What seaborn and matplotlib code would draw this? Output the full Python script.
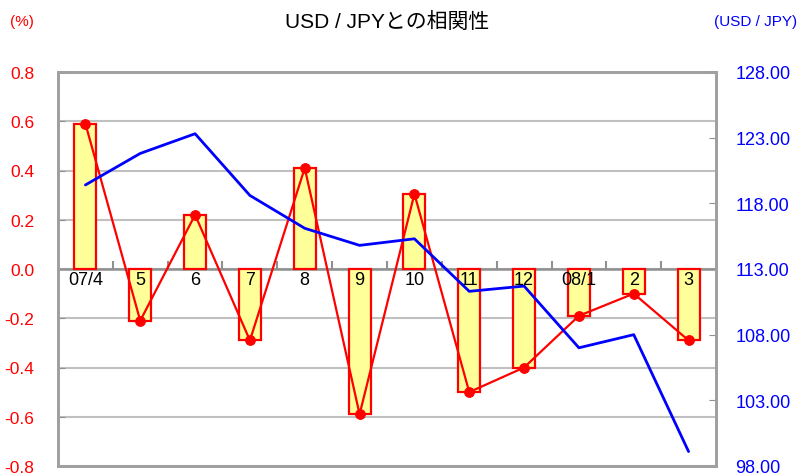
import numpy as np
import pandas as pd
import matplotlib
matplotlib.use("Agg")
import matplotlib.pyplot as plt
import seaborn as sns
from matplotlib.ticker import FormatStrFormatter

months = ["07/4", "5", "6", "7", "8", "9", "10", "11", "12", "08/1", "2", "3"]
corr = [0.59, -0.21, 0.22, -0.29, 0.41, -0.59, 0.305, -0.50, -0.40, -0.19, -0.10, -0.29]
usdjpy = [119.4, 121.8, 123.3, 118.6, 116.1, 114.8, 115.3, 111.3, 111.7, 107.0, 108.0, 99.1]
left_ticks = [-0.8, -0.6, -0.4, -0.2, 0.0, 0.2, 0.4, 0.6, 0.8]
right_ticks = [98, 103, 108, 113, 118, 123, 128]

sns.set_style("white")
plt.rcParams["font.family"] = ["Liberation Sans", "Noto Sans CJK JP", "DejaVu Sans"]
plt.rcParams["axes.unicode_minus"] = False

fig = plt.figure(figsize=(8.01, 4.77), dpi=100)
ax = fig.add_axes([58 / 801, 1 - 467 / 477, (716 - 58) / 801, (467 - 73) / 477])

df = pd.DataFrame({"month": months, "corr": corr, "pos": np.arange(len(months)), "usd": usdjpy})

sns.barplot(data=df, x="month", y="corr", order=months, ax=ax, color="#FFFF99",
            saturation=1, edgecolor="#FF0000", linewidth=1.6, width=0.4, zorder=3)
sns.lineplot(data=df, x="pos", y="corr", ax=ax, color="#FF0000", linewidth=1.6,
             marker="o", markersize=7, markeredgecolor="#FF0000", zorder=4)

ax.set_xlim(-0.5, len(months) - 0.5)
ax.set_ylim(-0.8, 0.8)
ax.set_yticks(left_ticks)
ax.yaxis.set_major_formatter(FormatStrFormatter("%.1f"))
ax.grid(axis="y", color="#c0c0c0", linewidth=1.5, zorder=0)
ax.set_axisbelow(True)
ax.axhline(0, color="#909090", linewidth=1.8, zorder=2)
ax.vlines(np.arange(len(months) - 1) + 0.5, 0, 0.033, color="#909090", linewidth=1.5, zorder=2)
ax.set_xticks([])
ax.set_xlabel("")
ax.set_ylabel("")
ax.tick_params(axis="y", direction="in", length=5, color="#909090", pad=17,
               labelcolor="#FF0000", labelsize=12.5)
for i, m in enumerate(months):
    ax.text(i, -0.042, m, ha="center", va="center", fontsize=13, color="black", zorder=5)

ax2 = ax.twinx()
sns.lineplot(data=df, x="pos", y="usd", ax=ax2, color="#0000FF", linewidth=2)
ax2.set_ylim(98, 128)
ax2.set_yticks(right_ticks)
ax2.yaxis.set_major_formatter(FormatStrFormatter("%.2f"))
ax2.set_xlim(-0.5, len(months) - 0.5)
ax2.set_ylabel("")
ax2.set_xlabel("")
ax2.tick_params(axis="y", direction="in", length=5, color="#909090", pad=14,
                labelcolor="#0000FF", labelsize=13)

for a in (ax, ax2):
    for s in a.spines.values():
        s.set_visible(True)
        s.set_color("#a0a0a0")
        s.set_linewidth(2)

fig.text(387 / 801, 1 - 22 / 477, "USD / JPYとの相関性", ha="center", va="center", fontsize=15, color="black")
fig.text(22 / 801, 1 - 22 / 477, "(%)", ha="center", va="center", fontsize=11, color="#FF0000")
fig.text(756 / 801, 1 - 22 / 477, "(USD / JPY)", ha="center", va="center", fontsize=11, color="#0000FF")

fig.savefig("out.png", dpi=100)
